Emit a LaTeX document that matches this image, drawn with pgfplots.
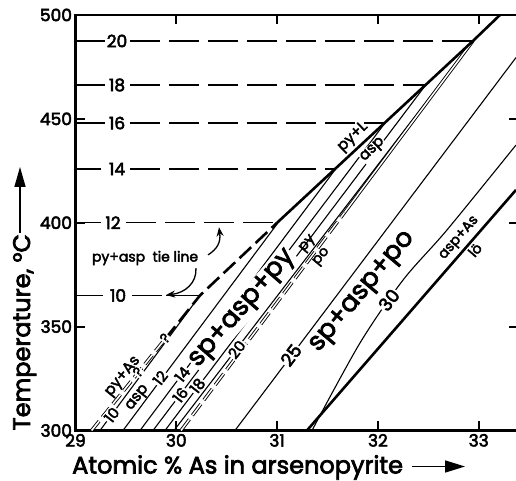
\documentclass[border=0pt]{standalone}
\usepackage{fontspec}
\setmainfont{Poppins}[UprightFeatures={FakeBold=3}]
\usepackage{pgfplots}
\pgfplotsset{compat=1.18}
\usetikzlibrary{arrows.meta}
\newcommand\fs[1]{\fontsize{#1}{#1}\selectfont}
\begin{document}
\begin{tikzpicture}[
  thinl/.style={black, line width=1.1pt},
  thickl/.style={black, line width=2.6pt},
  hsol/.style={black, line width=1.4pt},
  hdash/.style={black, line width=1.4pt, dash pattern=on 30pt off 9pt},
  lab/.style={fill=white, inner sep=1pt, font=\fs{15}},
]
\begin{axis}[
  scale only axis, width=442.5pt, height=415.5pt,
  xmin=29, xmax=33.39, ymin=300, ymax=500,
  xtick={29,30,31,32,33}, ytick={300,350,400,450,500},
  /pgf/number format/assume math mode=true,
  tick label style={font=\fs{17}},
  major tick length=9pt,
  every tick/.style={black, line width=2pt},
  axis line style={line width=2.5pt},
]
% horizontal tie-line isotherms (solid stub, label, dashed part)
\addplot[hsol] coordinates {(29,487.5) (29.29,487.5)};
\addplot[hdash] coordinates {(29.54,487.5) (32.943,487.5)};
\addplot[hsol] coordinates {(29,466.3) (29.29,466.3)};
\addplot[hdash] coordinates {(29.54,466.3) (32.474,466.3)};
\addplot[hsol] coordinates {(29,448.0) (29.29,448.0)};
\addplot[hdash] coordinates {(29.54,448.0) (32.070,448.0)};
\addplot[hsol] coordinates {(29,425.9) (29.25,425.9)};
\addplot[hdash] coordinates {(29.54,425.9) (31.581,425.9)};
\addplot[hsol] coordinates {(29,400) (29.25,400)};
\addplot[hdash] coordinates {(29.50,400) (31.009,400)};
\addplot[hsol] coordinates {(29,365) (29.27,365)};
\addplot[hdash] coordinates {(29.56,365) (29.90,365)};
\addplot[hsol] coordinates {(29.90,365) (30.235,365)};
\node[font=\fs{17}] at (axis cs:29.412,487.5) {20};
\node[font=\fs{17}] at (axis cs:29.412,466.3) {18};
\node[font=\fs{17}] at (axis cs:29.412,448.0) {16};
\node[font=\fs{17}] at (axis cs:29.412,425.9) {14};
\node[font=\fs{17}] at (axis cs:29.372,400) {12};
\node[font=\fs{17}] at (axis cs:29.422,365) {10};
% sphalerite isopleths in sp+asp+py
\addplot[thinl] coordinates {(29.243,300) (30.235,365)};
\addplot[thinl] coordinates {(29.471,300) (31.009,400)};
\addplot[thinl] coordinates {(29.640,300) (31.581,425.9)};
\addplot[thinl] coordinates {(29.769,300) (32.070,448.0)};
\addplot[thinl] coordinates {(29.888,300) (32.474,466.3)};
\addplot[thinl] coordinates {(29.977,300) (32.943,487.5)};
% isopleths in sp+asp+po
\addplot[thinl] coordinates {(30.582,300) (33.37,479.5)};
\addplot[thinl, smooth] coordinates {(31.346,300) (31.822,342.1) (32.249,372.4) (32.685,396.5) (33.37,437.4)};
% asp+As / lo boundary
\addplot[thickl] coordinates {(31.296,300) (33.37,415.8)};
% py/po boundary (double line)
\addplot[black, line width=0.9pt, double=white, double distance=1.5pt, dash pattern=on 14pt off 5pt] coordinates {(30.047,300) (31.670,405)};
\addplot[black, line width=0.9pt, double=white, double distance=1.5pt] coordinates {(31.670,405) (32.943,487.5)};
% upper boundary: py+As (uncertain), tie line, py+L
\addplot[black, line width=0.9pt, double=white, double distance=1.6pt, dash pattern=on 12pt off 5pt] coordinates {(29.16,300) (29.89,344.1)};
\addplot[black, line width=2.6pt, dash pattern=on 16pt off 6pt] coordinates {(29.89,344.1) (30.235,365) (31.0,400)};
\addplot[thickl] coordinates {(31.0,400) (32.943,487.5) (33.211,500)};
% question marks
\node[fill=white, inner sep=0.5pt, font=\fs{14}, rotate=50] at (axis cs:29.62,328.2) {?};
\node[fill=white, inner sep=0.5pt, font=\fs{14}, rotate=50] at (axis cs:29.888,344.5) {?};
% field and line labels
\node[font=\fs{14}] at (axis cs:29.69,383.0) {py+asp\ \ tie line};
\draw[black, line width=1.3pt, -{Stealth[length=9pt,width=7pt]}] (axis cs:30.315,384.5) .. controls (axis cs:30.404,387.4) and (axis cs:30.443,390.3) .. (axis cs:30.424,397.8);
\draw[black, line width=1.3pt, -{Stealth[length=9pt,width=7pt]}] (axis cs:30.195,378.2) .. controls (axis cs:30.205,371.0) and (axis cs:30.086,366.2) .. (axis cs:29.898,365.2);
\node[font=\fs{15}, rotate=51] at (axis cs:29.47,326.0) {py+As};
\node[lab, rotate=52] at (axis cs:29.36,307.5) {10};
\node[font=\fs{15}, rotate=52] at (axis cs:29.62,315.6) {asp};
\node[lab, rotate=52] at (axis cs:29.84,325.3) {12};
\node[lab, rotate=52] at (axis cs:30.06,327.0) {14};
\node[lab, rotate=52] at (axis cs:30.04,317.1) {16};
\node[lab, rotate=52] at (axis cs:30.21,321.5) {18};
\node[lab, rotate=52] at (axis cs:30.60,339.0) {20};
\node[fill=white, inner sep=1pt, font=\fs{26}, rotate=49] at (axis cs:30.66,358.5) {sp+asp+py};
\node[font=\fs{14}, rotate=50] at (axis cs:31.305,389.8) {py};
\node[font=\fs{14}, rotate=50] at (axis cs:31.444,383.5) {po};
\node[lab, font=\fs{18}, rotate=53] at (axis cs:31.138,336.3) {25};
\node[lab, font=\fs{18}, rotate=52] at (axis cs:32.110,362.8) {30};
\node[font=\fs{26}, rotate=50] at (axis cs:31.852,366.6) {sp+asp+po};
\node[font=\fs{14}, rotate=49] at (axis cs:32.805,392.7) {asp+As};
\node[font=\fs{14}, rotate=49] at (axis cs:32.963,386.9) {lö};
\node[font=\fs{15}, rotate=44] at (axis cs:31.753,441.2) {py+L};
\node[fill=white, inner sep=0.5pt, font=\fs{15}, rotate=44] at (axis cs:31.951,435.0) {asp};
\end{axis}
% axis titles
\node[rotate=90, anchor=base west, font=\fs{24}, inner sep=0pt] at ([xshift=-45.5pt]current axis.south west) {Temperature, °C};
\draw[black, line width=1.6pt, -{Triangle[length=20pt,width=11pt]}] ([xshift=-55.5pt, yshift=197.5pt]current axis.south west) -- ++(0,66pt);
\node[anchor=base west, font=\fs{24}, inner sep=0pt] at ([xshift=-3.5pt, yshift=-43pt]current axis.south west) {Atomic \% As in arsenopyrite};
\draw[black, line width=1.6pt, -{Triangle[length=20pt,width=12pt]}] ([xshift=336.5pt, yshift=-36pt]current axis.south west) -- ++(53pt,0);
\pgfresetboundingbox
\path ([xshift=-75.5pt, yshift=-50.5pt]current axis.south west) rectangle ([xshift=-2pt, yshift=15pt]current axis.north east);
\end{tikzpicture}
\end{document}
